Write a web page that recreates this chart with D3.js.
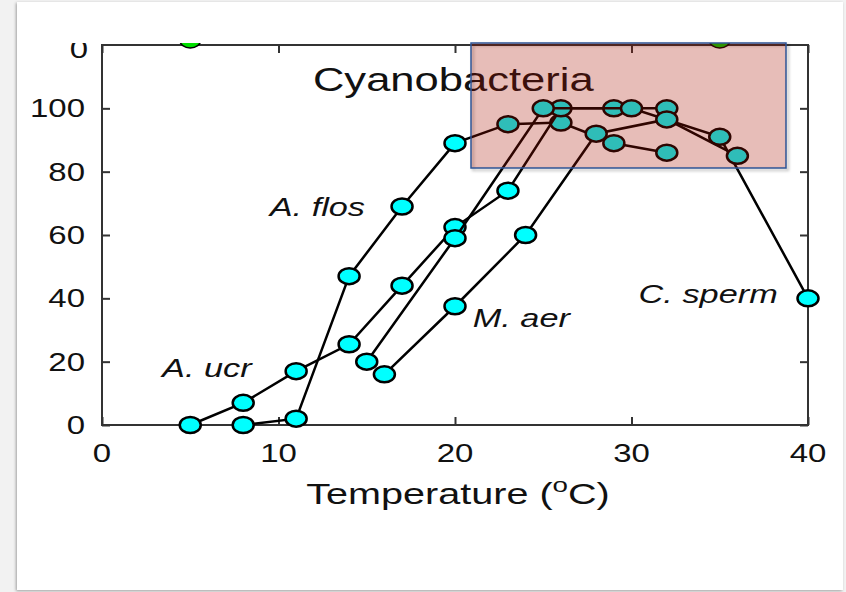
<!DOCTYPE html>
<html>
<head>
<meta charset="utf-8">
<script src="https://cdn.jsdelivr.net/npm/d3@7"></script>
<style>
  body { margin: 0; background: #f2f2f2; }
  svg { display: block; }
</style>
</head>
<body>
<script>
// Variables

// SVG Variables
var width = 846;
var height = 592;
var plot = {left: 102, right: 808, top: 45, bottom: 425};
var stretch = 1.32; // the figure is stretched sideways, text too

// Data Variables (temperature in C, growth in % of max)
var flos_temp = [8, 11, 14, 17, 20, 23, 26, 29, 32];
var flos_growth = [0, 2, 47, 69, 89, 95, 95.5, 89, 86];

var ucr_temp = [5, 8, 11, 14, 17, 20, 23, 26, 29, 32];
var ucr_growth = [0, 7, 17, 25.5, 44, 62.5, 74, 100, 100, 100];

var sperm_temp = [15, 20, 25, 30, 35, 40];
var sperm_growth = [20, 59, 100, 100, 91, 40];

var aer_temp = [16, 20, 24, 28, 32, 36];
var aer_growth = [16, 37.5, 60, 92, 96.5, 85];

// points of the panel above, only their bottom edge shows
var upper_temp = [5, 35];
var upper_growth = [121.6, 121.6];

var x_ticks = [0, 10, 20, 30, 40];
var y_ticks = [0, 20, 40, 60, 80, 100];
var upper_ticks = ["0"];

var labels = ["A. flos", "A. ucr", "M. aer", "C. sperm"];
var label_temp = [9.5, 3.4, 21.0, 30.4];
var label_growth = [66, 15.2, 31, 38.5];

var svg = d3.select("body").append("svg").attr("width", width).attr("height", height);

// card shadow
var defs = svg.append("defs");
defs.append("filter").attr("id", "shadow")
    .attr("x", "-5%").attr("y", "-5%").attr("width", "110%").attr("height", "110%")
    .append("feDropShadow")
    .attr("dx", -1).attr("dy", 1).attr("stdDeviation", 1.5)
    .attr("flood-color", "#000").attr("flood-opacity", 0.35);
defs.append("filter").attr("id", "blur")
    .attr("x", "-5%").attr("y", "-10%").attr("width", "115%").attr("height", "125%")
    .append("feGaussianBlur").attr("stdDeviation", 1.5);
defs.append("clipPath").attr("id", "crop")
    .append("rect").attr("x", 0).attr("y", 43).attr("width", width).attr("height", height - 43);

svg.append("rect")
    .attr("x", 17).attr("y", 2).attr("width", 826).attr("height", 588)
    .attr("fill", "#fff")
    .attr("filter", "url(#shadow)");

var chart = svg.append("g").attr("clip-path", "url(#crop)");

// Scales
var x_scale = d3.scaleLinear().domain([0, 40]).range([plot.left, plot.right]);
var y_scale = d3.scaleLinear().domain([0, 120]).range([plot.bottom, plot.top]);

var font = "'Liberation Sans', Arial, sans-serif";

// helper for stretched text
var put_text = function(g, x, y, str, size, anchor, italic) {
    return g.append("text")
        .attr("transform", "translate(" + x + "," + y + ") scale(" + stretch + ",1)")
        .attr("text-anchor", anchor)
        .attr("font-family", font)
        .attr("font-size", size + "px")
        .attr("font-style", italic ? "italic" : "normal")
        .attr("fill", "#111")
        .text(str);
};

// Axes box with inward ticks
var axis_color = "#333";
chart.append("rect")
    .attr("x", plot.left).attr("y", plot.top)
    .attr("width", plot.right - plot.left).attr("height", plot.bottom - plot.top)
    .attr("fill", "none").attr("stroke", axis_color).attr("stroke-width", 2);

chart.append("g").attr("transform", "translate(0," + plot.bottom + ")")
    .call(d3.axisBottom(x_scale).tickValues(x_ticks).tickSizeInner(-8).tickSizeOuter(0).tickFormat(""));
chart.append("g").attr("transform", "translate(0," + plot.top + ")")
    .call(d3.axisTop(x_scale).tickValues(x_ticks).tickSizeInner(-8).tickSizeOuter(0).tickFormat(""));
chart.append("g").attr("transform", "translate(" + plot.left + ",0)")
    .call(d3.axisLeft(y_scale).tickValues(y_ticks).tickSizeInner(-8).tickSizeOuter(0).tickFormat(""));
chart.append("g").attr("transform", "translate(" + plot.right + ",0)")
    .call(d3.axisRight(y_scale).tickValues(y_ticks).tickSizeInner(-8).tickSizeOuter(0).tickFormat(""));
chart.selectAll(".domain").remove();
chart.selectAll(".tick line").attr("stroke", axis_color).attr("stroke-width", 2);

// Tick labels
x_ticks.forEach(function(t) {
    put_text(chart, x_scale(t), plot.bottom + 37, t, 25, "middle", false);
});
y_ticks.forEach(function(t) {
    put_text(chart, plot.left - 17, y_scale(t) + 9, t, 25, "end", false);
});
// label of the panel above, cut by the crop
upper_ticks.forEach(function(t) {
    put_text(chart, plot.left - 14, plot.top + 13, t, 25, "end", false);
});

// Axis title
var xt = put_text(chart, 458, 504, "", 30, "middle", false);
xt.append("tspan").text("Temperature (");
xt.append("tspan").attr("font-size", "21px").attr("dy", -12).text("o");
xt.append("tspan").attr("dy", 12).text("C)");

// Panel title
put_text(chart, x_scale(11.95), y_scale(105.6), "Cyanobacteria", 33, "start", false);

// Series
var series = [
    {temp: flos_temp, growth: flos_growth},
    {temp: ucr_temp, growth: ucr_growth},
    {temp: sperm_temp, growth: sperm_growth},
    {temp: aer_temp, growth: aer_growth}
];

var line = d3.line()
    .x(function(d) { return x_scale(d[0]); })
    .y(function(d) { return y_scale(d[1]); });

series.forEach(function(s) {
    var pts = s.temp.map(function(t, i) { return [t, s.growth[i]]; });
    chart.append("path")
        .attr("d", line(pts))
        .attr("fill", "none")
        .attr("stroke", "#000")
        .attr("stroke-width", 2.5);
    chart.selectAll(null).data(pts).enter().append("ellipse")
        .attr("cx", function(d) { return x_scale(d[0]); })
        .attr("cy", function(d) { return y_scale(d[1]); })
        .attr("rx", 10.5)
        .attr("ry", 8)
        .attr("fill", "#00ffff")
        .attr("stroke", "#000")
        .attr("stroke-width", 2.5);
});

// green points from the upper panel
var upper_pts = upper_temp.map(function(t, i) { return [t, upper_growth[i]]; });
chart.selectAll(null).data(upper_pts).enter().append("ellipse")
    .attr("cx", function(d) { return x_scale(d[0]); })
    .attr("cy", function(d) { return y_scale(d[1]); })
    .attr("rx", 10.5)
    .attr("ry", 8)
    .attr("fill", "#00e000")
    .attr("stroke", "#000")
    .attr("stroke-width", 1.5);

// Species labels
labels.forEach(function(l, i) {
    put_text(chart, x_scale(label_temp[i]), y_scale(label_growth[i]), l, 26, "start", true);
});

// Highlight box over the optimum, soft shadow first then the box
svg.append("rect")
    .attr("x", 473).attr("y", 45).attr("width", 315).attr("height", 125)
    .attr("fill", "none")
    .attr("stroke", "#000")
    .attr("stroke-opacity", 0.25)
    .attr("stroke-width", 2)
    .attr("filter", "url(#blur)");
svg.append("rect")
    .attr("x", 471).attr("y", 43).attr("width", 315).attr("height", 125)
    .attr("fill", "rgb(168,18,0)")
    .attr("fill-opacity", 0.28)
    .attr("stroke", "#2f5597")
    .attr("stroke-width", 1.5);
</script>
</body>
</html>
